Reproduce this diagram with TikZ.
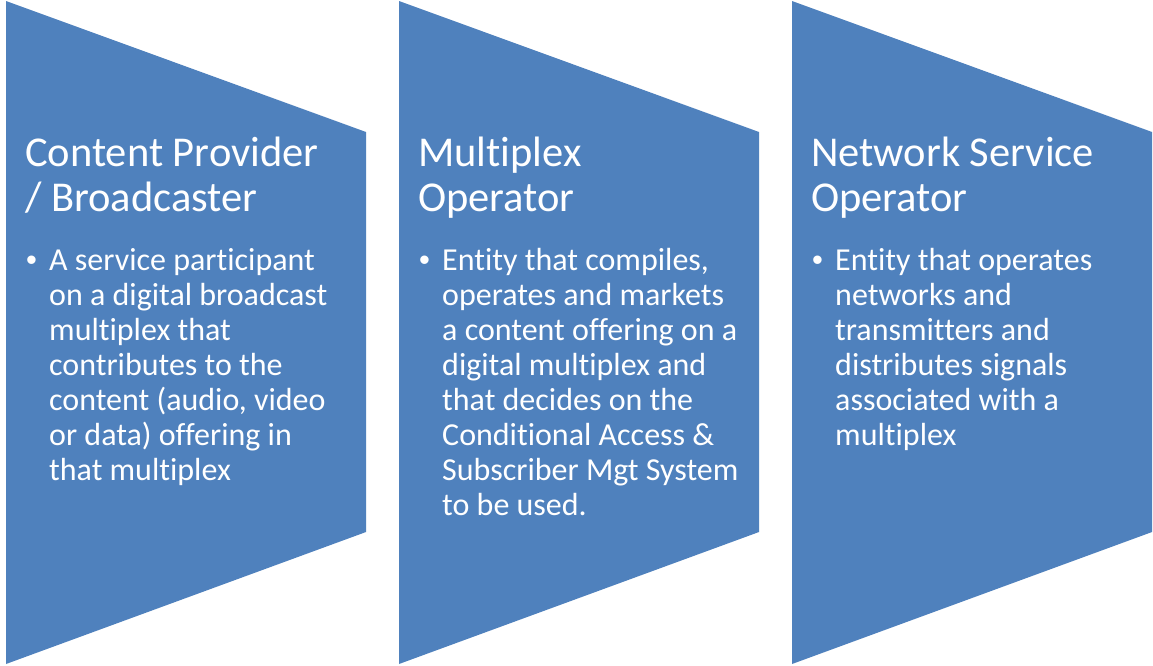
\documentclass[tikz,border=0pt]{standalone}
\usepackage{fontspec}
\setmainfont{Carlito}[Ligatures=CommonOff]
\newfontfamily\dotfont{Liberation Sans}
\definecolor{chevblue}{HTML}{4F81BD}
\tikzset{
  chevron/.style={fill=chevblue},
  headtxt/.style={anchor=north west,inner sep=0,align=left,text=white,
    font=\fontsize{42.5}{45}\selectfont},
  bodytxt/.style={anchor=north west,inner sep=0,align=left,text=white,
    font=\fontsize{32}{35}\selectfont},
  dottxt/.style={anchor=base west,inner sep=0,text=white,
    font=\dotfont\fontsize{31}{35}\selectfont},
}
\begin{document}
\begin{tikzpicture}[x=1pt,y=-1pt]
\useasboundingbox[fill=white] (0,0) rectangle (1153,665);
% three chevrons, 360 wide, one every 393
\foreach \x in {6,399,792}
  \fill[chevron] (\x,1) -- (\x+360,132) -- (\x+360,532) -- (\x,664) -- cycle;
% content provider
\node[headtxt] (cphead) at (25,137) {Content Provider\\/ Broadcaster};
\node[dottxt] (cpdot) at (26,270) {•};
\node[bodytxt] (cpbody) at (49,248)
  {A service participant\\on a digital broadcast\\multiplex that\\contributes to the\\content (audio, video\\or data) offering in\\that multiplex};
% multiplex operator
\node[headtxt] (mohead) at (418,137) {Multiplex\\Operator};
\node[dottxt] (modot) at (419,270) {•};
\node[bodytxt] (mobody) at (442,248)
  {Entity that compiles,\\operates and markets\\a content offering on a\\digital multiplex and\\that decides on the\\Conditional Access \&\\Subscriber Mgt System\\to be used.};
% network service operator
\node[headtxt] (nshead) at (811,137) {Network Service\\Operator};
\node[dottxt] (nsdot) at (812,270) {•};
\node[bodytxt] (nsbody) at (835,248)
  {Entity that operates\\networks and\\transmitters and\\distributes signals\\associated with a\\multiplex};
\end{tikzpicture}
\end{document}
